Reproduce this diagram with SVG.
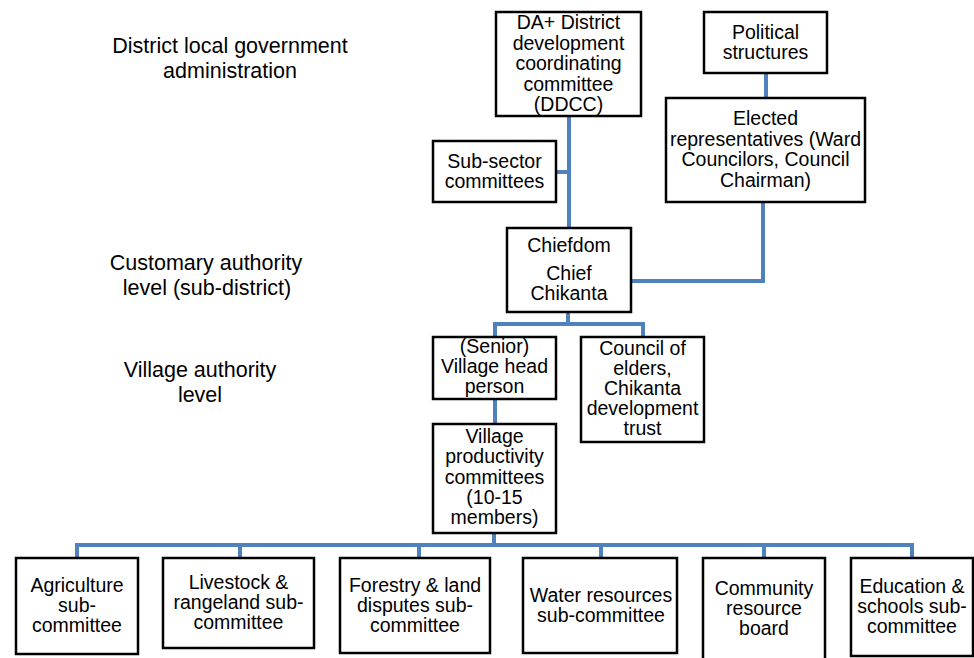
<svg xmlns="http://www.w3.org/2000/svg" width="974" height="658" viewBox="0 0 974 658">
<style>
.box{fill:#fff;stroke:#000;stroke-width:2.5}
.t{font-family:"Liberation Sans",Arial,sans-serif;font-size:19.5px;fill:#000;text-anchor:middle}
.lbl{font-family:"Liberation Sans",Arial,sans-serif;font-size:21.5px;fill:#000;text-anchor:middle}
.c{fill:none;stroke:#4F81BD;stroke-width:4}
</style>
<rect width="974" height="658" fill="#fff"/>
<g id="levels">
<text class="lbl" x="230" y="53">District local government</text>
<text class="lbl" x="230" y="78">administration</text>
<text class="lbl" x="206" y="270">Customary authority</text>
<text class="lbl" x="207" y="295">level (sub-district)</text>
<text class="lbl" x="200" y="377">Village authority</text>
<text class="lbl" x="200" y="402">level</text>
</g>
<g id="connectors">
<path class="c" d="M569,116V228"/>
<path class="c" d="M556,172H569"/>
<path class="c" d="M766,73V98"/>
<path class="c" d="M763,202V281H631"/>
<path class="c" d="M568,312V324M495,337V324H643V337"/>
<path class="c" d="M495,399V424"/>
<path class="c" d="M494,533V545"/>
<path class="c" d="M77,558V545H912V558M240,545V558M419,545V558M601,545V558M764,545V558"/>
</g>
<g id="ddcc">
<rect class="box" x="496" y="12" width="145" height="104"/>
<text class="t" x="568.5" y="29">DA+ District</text>
<text class="t" x="568.5" y="49.5">development</text>
<text class="t" x="568.5" y="70">coordinating</text>
<text class="t" x="568.5" y="90.5">committee</text>
<text class="t" x="568.5" y="111">(DDCC)</text>
</g>
<g id="political">
<rect class="box" x="704" y="12" width="123" height="61"/>
<text class="t" x="765.5" y="38.5">Political</text>
<text class="t" x="765.5" y="58.5">structures</text>
</g>
<g id="elected">
<rect class="box" x="666" y="98" width="199" height="104"/>
<text class="t" x="765.5" y="125">Elected</text>
<text class="t" x="765.5" y="146">representatives (Ward</text>
<text class="t" x="765.5" y="166">Councilors, Council</text>
<text class="t" x="765.5" y="187">Chairman)</text>
</g>
<g id="subsector">
<rect class="box" x="433" y="141" width="123" height="61"/>
<text class="t" x="494.5" y="168">Sub-sector</text>
<text class="t" x="494.5" y="188">committees</text>
</g>
<g id="chiefdom">
<rect class="box" x="507" y="228" width="124" height="84"/>
<text class="t" x="569" y="252">Chiefdom</text>
<text class="t" x="569" y="280">Chief</text>
<text class="t" x="569" y="300">Chikanta</text>
</g>
<g id="senior">
<rect class="box" x="433" y="337" width="123" height="62"/>
<text class="t" x="494.5" y="353">(Senior)</text>
<text class="t" x="494.5" y="373">Village head</text>
<text class="t" x="494.5" y="393">person</text>
</g>
<g id="council">
<rect class="box" x="581" y="337" width="123" height="105"/>
<text class="t" x="642.5" y="355">Council of</text>
<text class="t" x="642.5" y="375">elders,</text>
<text class="t" x="642.5" y="395">Chikanta</text>
<text class="t" x="642.5" y="415">development</text>
<text class="t" x="642.5" y="435">trust</text>
</g>
<g id="vpc">
<rect class="box" x="433" y="424" width="123" height="109"/>
<text class="t" x="494.5" y="443">Village</text>
<text class="t" x="494.5" y="463">productivity</text>
<text class="t" x="494.5" y="484">committees</text>
<text class="t" x="494.5" y="504">(10-15</text>
<text class="t" x="494.5" y="524">members)</text>
</g>
<g id="agriculture">
<rect class="box" x="16" y="558" width="122" height="96"/>
<text class="t" x="77" y="592">Agriculture</text>
<text class="t" x="77" y="612">sub-</text>
<text class="t" x="77" y="632">committee</text>
</g>
<g id="livestock">
<rect class="box" x="163" y="558" width="151" height="90"/>
<text class="t" x="238.5" y="589">Livestock &amp;</text>
<text class="t" x="238.5" y="609">rangeland sub-</text>
<text class="t" x="238.5" y="629">committee</text>
</g>
<g id="forestry">
<rect class="box" x="340" y="558" width="150" height="95"/>
<text class="t" x="415" y="592">Forestry &amp; land</text>
<text class="t" x="415" y="612">disputes sub-</text>
<text class="t" x="415" y="632">committee</text>
</g>
<g id="water">
<rect class="box" x="523" y="558" width="154" height="95"/>
<text class="t" x="601" y="602">Water resources</text>
<text class="t" x="601" y="622">sub-committee</text>
</g>
<g id="community">
<rect class="box" x="703" y="558" width="122" height="102"/>
<text class="t" x="764" y="595">Community</text>
<text class="t" x="764" y="615">resource</text>
<text class="t" x="764" y="635">board</text>
</g>
<g id="education">
<rect class="box" x="851" y="558" width="122" height="98"/>
<text class="t" x="912" y="593">Education &amp;</text>
<text class="t" x="912" y="613">schools sub-</text>
<text class="t" x="912" y="633">committee</text>
</g>
</svg>
